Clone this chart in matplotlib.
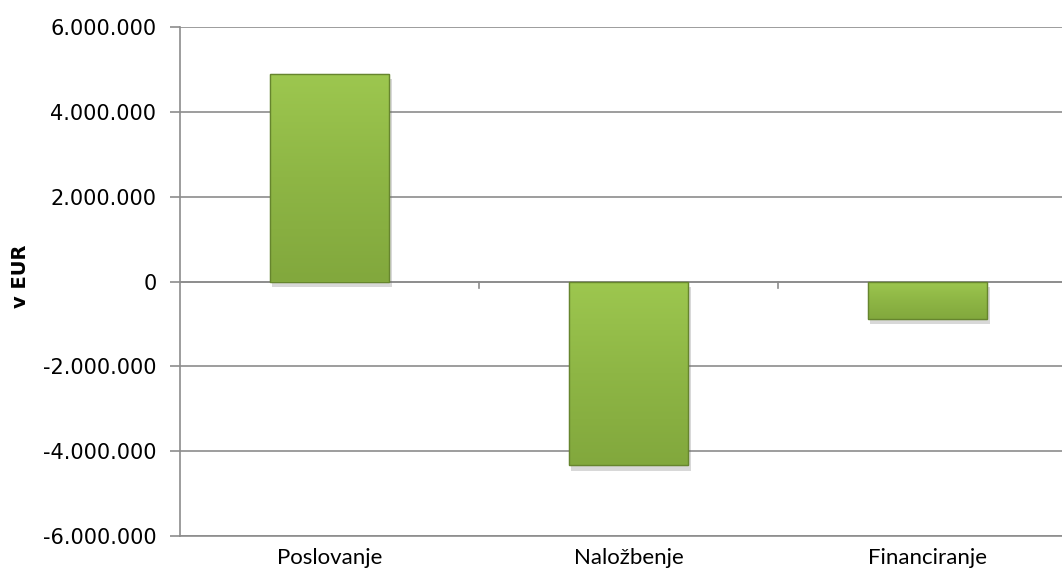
import matplotlib
matplotlib.use("Agg")
import matplotlib.pyplot as plt
import matplotlib.patheffects as pe
from matplotlib.colors import LinearSegmentedColormap
from matplotlib.ticker import FuncFormatter
import matplotlib.transforms as mtransforms
import numpy as np

categories = ["Poslovanje", "Naložbenje", "Financiranje"]
values = [4_900_000, -4_330_000, -880_000]
y_ticks = [-6_000_000, -4_000_000, -2_000_000, 0, 2_000_000, 4_000_000, 6_000_000]

GRID = "#8c8c8c"


def fmt_eur(v, _pos=None):
    return f"{int(v):,}".replace(",", ".")


fig = plt.figure(figsize=(10.62, 5.79), dpi=100)
ax = fig.add_axes([180 / 1062, 1 - 536 / 579, 897 / 1062, 509 / 579])

x = np.arange(len(categories))
bars = ax.bar(x, values, width=0.40, color="#8db444", edgecolor="#6a8b30",
              linewidth=0.8, zorder=3,
              path_effects=[pe.SimplePatchShadow(offset=(2, -4), shadow_rgbFace="#666666", alpha=0.25),
                            pe.Normal()])

# vertical gradient inside each bar
cmap = LinearSegmentedColormap.from_list("g", ["#9dc74f", "#8eb645", "#82a83d"])
grad = np.linspace(0, 1, 256).reshape(-1, 1)
for b in bars:
    x0, y0 = b.get_x(), b.get_y()
    w, h = b.get_width(), b.get_height()
    top, bot = max(y0, y0 + h), min(y0, y0 + h)
    im = ax.imshow(grad, cmap=cmap, aspect="auto", extent=(x0, x0 + w, bot, top),
                   origin="upper", zorder=4)
    im.set_clip_path(b)
    ax.add_patch(plt.Rectangle((x0, y0), w, h, fill=False, edgecolor="#66852e",
                               linewidth=1.0, zorder=5))

ax.set_xlim(-0.5, len(categories) - 0.5)
ax.set_ylim(y_ticks[0], y_ticks[-1])
ax.set_yticks(y_ticks)
ax.yaxis.set_major_formatter(FuncFormatter(fmt_eur))
ax.set_xticks(x)
ax.set_xticklabels(categories, fontsize=16, family=["Lato", "DejaVu Sans"], color="#000000")
ax.tick_params(axis="x", length=0, pad=9)
ax.tick_params(axis="y", length=7, width=1.2, color=GRID, labelsize=15, pad=10)
for lab in ax.get_yticklabels():
    lab.set_family(["DejaVu Sans"])

ax.grid(axis="y", color=GRID, linewidth=1.2, zorder=0)
ax.set_axisbelow(True)
for s in ["top", "right"]:
    ax.spines[s].set_visible(False)
ax.spines["left"].set_color(GRID)
ax.spines["left"].set_linewidth(1.2)
ax.spines["bottom"].set_color(GRID)
ax.spines["bottom"].set_linewidth(1.2)

# zero line with category boundary tick marks
ax.axhline(0, color=GRID, linewidth=1.2, zorder=1)
trans = mtransforms.blended_transform_factory(ax.transData, ax.transAxes)
zero_frac = (0 - y_ticks[0]) / (y_ticks[-1] - y_ticks[0])
for xb in x[:-1] + 0.5:
    ax.plot([xb, xb], [zero_frac, zero_frac - 0.013], transform=trans, color=GRID,
            linewidth=1.2, zorder=1)

ax.set_ylabel("v EUR", fontsize=14, fontweight="bold")
ax.yaxis.set_label_coords(-150 / 897, 0.51)

fig.savefig("out.png", dpi=100)
